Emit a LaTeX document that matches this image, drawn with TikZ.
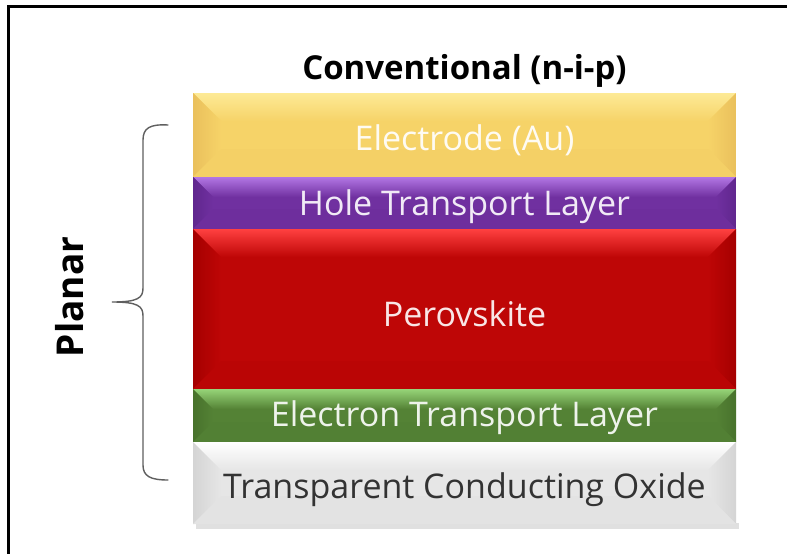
\documentclass[tikz,border=0pt]{standalone}
\usepackage{fontspec}
\setmainfont{Open Sans}
\definecolor{auB}{RGB}{246,211,104}
\definecolor{auL}{RGB}{253,234,150}
\definecolor{auD}{RGB}{234,192,92}
\definecolor{htB}{RGB}{112,48,160}
\definecolor{htL}{RGB}{178,118,228}
\definecolor{htD}{RGB}{96,38,142}
\definecolor{pvB}{RGB}{190,6,6}
\definecolor{pvL}{RGB}{255,64,64}
\definecolor{pvD}{RGB}{165,0,0}
\definecolor{etB}{RGB}{84,130,53}
\definecolor{etL}{RGB}{150,212,120}
\definecolor{etD}{RGB}{72,114,44}
\definecolor{toB}{RGB}{230,230,230}
\definecolor{toL}{RGB}{255,255,255}
\definecolor{toD}{RGB}{212,212,212}
\definecolor{braceC}{RGB}{95,95,95}
\newcommand{\drawlayer}[6]{% y1 y2 base light dark bevel
  \fill[#3] (193,#1) rectangle (736,#2);
  \shade[top color=#4, bottom color=#3] (193,#1) -- (736,#1) -- (736-#6,#1+#6) -- (193+#6,#1+#6) -- cycle;
  \shade[left color=#5, right color=#3] (193,#1) -- (193+#6,#1+#6) -- (193+#6,#2-#6) -- (193,#2) -- cycle;
  \shade[right color=#5, left color=#3] (736,#1) -- (736-#6,#1+#6) -- (736-#6,#2-#6) -- (736,#2) -- cycle;
  \fill[#3!85!#5] (193,#2) -- (193+#6,#2-#6) -- (736-#6,#2-#6) -- (736,#2) -- cycle;
}
\tikzset{
  lbl/.style={font=\fontsize{34}{40}\selectfont, inner sep=0pt},
  ttl/.style={font=\bfseries\fontsize{33}{38}\selectfont, inner sep=0pt}
}
\begin{document}
\begin{tikzpicture}[x=1pt,y=-1pt]
\useasboundingbox (0,0) rectangle (787,554);
\fill[white] (0,0) rectangle (787,554);
% frame
\draw[line width=2.6pt] (8.5,554) -- (8.5,6.7) -- (787,6.7);
% shadow
\fill[black!12] (196,523) rectangle (739,529);
% layers
\drawlayer{93}{177}{auB}{auL}{auD}{28}
\drawlayer{177}{229}{htB}{htL}{htD}{20}
\drawlayer{229}{389}{pvB}{pvL}{pvD}{28}
\drawlayer{389}{442}{etB}{etL}{etD}{20}
\drawlayer{442}{524}{toB}{toL}{toD}{28}
% texts
\node[ttl] (title) at (464.5,71) {Conventional (n-i-p)};
\node[lbl, text=white!92!auB] (el) at (464.5,140) {Electrode (Au)};
\node[lbl, text=white!90!htB] (htl) at (464.5,207) {Hole Transport Layer};
\node[lbl, text=white!90!pvB] (pv) at (464.5,314) {Perovskite};
\node[lbl, text=white!90!etB] (etl) at (464.5,418) {Electron Transport Layer};
\node[lbl, text=black!80] (tco) at (464.5,490) {Transparent Conducting Oxide};
% brace
\coordinate (bt) at (168,125);
\coordinate (bm) at (112,302);
\coordinate (bb) at (168,480);
\draw[braceC, line width=1.4pt, line cap=round]
  (bt) .. controls (150,124) and (143,128) .. (143,140) -- (143,288)
  .. controls (143,298) and (138,302) .. (bm)
  .. controls (138,302) and (143,306) .. (143,316) -- (143,465)
  .. controls (143,476) and (150,480) .. (bb);
\node[ttl, rotate=90, font=\bfseries\fontsize{37}{42}\selectfont] (planar) at (70,297) {Planar};
\end{tikzpicture}
\end{document}
